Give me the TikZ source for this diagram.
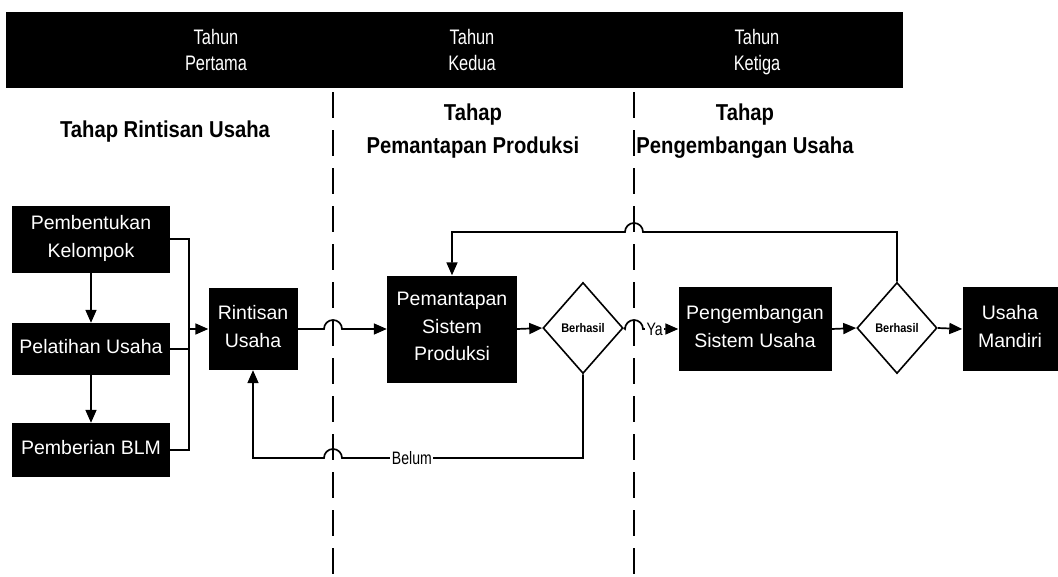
\documentclass[tikz,border=0pt]{standalone}
\usepackage{fontspec}
\setmainfont{Liberation Sans}
\newfontfamily\narrow[FakeStretch=0.88]{Liberation Sans}
\newfontfamily\slim[FakeStretch=0.78]{Liberation Sans}
\newcommand\dstr{\rule[-5pt]{0pt}{5pt}}
\usetikzlibrary{shapes.geometric,arrows.meta}
\begin{document}
\begin{tikzpicture}[x=1pt,y=-1pt,
  box/.style={fill=black, text=white, align=center, inner sep=0pt, font=\fontsize{19.5}{27.5}\selectfont},
  dec/.style={draw, diamond, line width=1.6pt, inner sep=0pt, minimum width=80pt, minimum height=91pt, font=\bfseries\narrow\fontsize{12.5}{14}\selectfont},
  conn/.style={line width=1.7pt},
  arr/.style={conn, -{Triangle[length=13pt,width=11pt]}},
  dashline/.style={line width=2.2pt, dash pattern=on 26pt off 12pt},
  bantext/.style={text=white, align=center, font=\slim\fontsize{21}{26}\selectfont},
  phase/.style={align=center, font=\narrow\bfseries\fontsize{23}{33}\selectfont},
  lbl/.style={fill=white, inner sep=1.5pt, font=\slim\fontsize{18}{18}\selectfont}
]
\useasboundingbox (0,0) rectangle (1058,576);

% banner
\fill[black] (6,12) rectangle (903,88);
\node[bantext] (y1) at (216,52) {Tahun\\Pertama\dstr};
\node[bantext] (y2) at (472,52) {Tahun\\Kedua\dstr};
\node[bantext] (y3) at (757,52) {Tahun\\Ketiga\dstr};

% phase separators
\draw[dashline] (333,92) -- (333,576);
\draw[dashline] (634,92) -- (634,576);

% phase titles
\node[phase] (p1) at (165,132) {Tahap Rintisan Usaha};
\node[phase] (p2) at (473,131) {Tahap\\Pemantapan Produksi};
\node[phase] (p3) at (745,131) {Tahap\\Pengembangan Usaha};

% boxes
\node[box, minimum width=158pt, minimum height=67pt] (pk) at (91,239) {Pembentukan\\Kelompok\dstr};
\node[box, minimum width=158pt, minimum height=52pt] (pu) at (91,349) {Pelatihan Usaha\dstr};
\node[box, minimum width=158pt, minimum height=54pt] (pb) at (91,450) {Pemberian BLM\dstr};
\node[box, minimum width=89pt, minimum height=82pt] (ru) at (253,329) {Rintisan\\Usaha\dstr};
\node[box, minimum width=130pt, minimum height=107pt] (ps) at (452,329) {Pemantapan\\Sistem\\Produksi\dstr};
\node[dec] (d1) at (583,328) {Berhasil};
\node[box, minimum width=153pt, minimum height=84pt] (pg) at (755,329) {Pengembangan\\Sistem Usaha\dstr};
\node[dec] (d2) at (897,328) {Berhasil};
\node[box, minimum width=95pt, minimum height=84pt] (um) at (1010,329) {Usaha\\Mandiri\dstr};

% left column
\draw[arr] (pk) -- (pu);
\draw[arr] (pu) -- (pb);
\coordinate (bt) at (189,239);
\coordinate (bb) at (189,450);
\draw[conn] (pk.east) -- (bt) -- (bb) -- (pb.east);
\draw[conn] (pu.east) -- (pu.east -| bt);
\draw[arr] (ru.west -| bt) -- (ru.west);

% main row
\draw[arr] (ru.east) -- (324,329) arc (180:360:9) -- (ps.west);
\draw[arr] (ps.east) -- (d1.west);
\draw[arr] (d1.east) -- (625,329) arc (180:360:9) -- node[lbl, pos=0.33] (ya) {Ya} (pg.west);
\draw[arr] (pg.east) -- (d2.west);
\draw[arr] (d2.east) -- (um.west);

% feedback loops
\coordinate (tr) at (897,232);
\draw[arr] (d2.north) -- (tr) -- (643,232) arc (0:-180:9) -- (ps.north |- tr) -- (ps.north);
\coordinate (br) at (583,458);
\coordinate (bl) at (253,458);
\draw[arr] (d1.south) -- (br) -- node[lbl, pos=0.71] (belum) {Belum} (342,458) arc (0:-180:9) -- (bl) -- (ru.south);
\end{tikzpicture}
\end{document}
